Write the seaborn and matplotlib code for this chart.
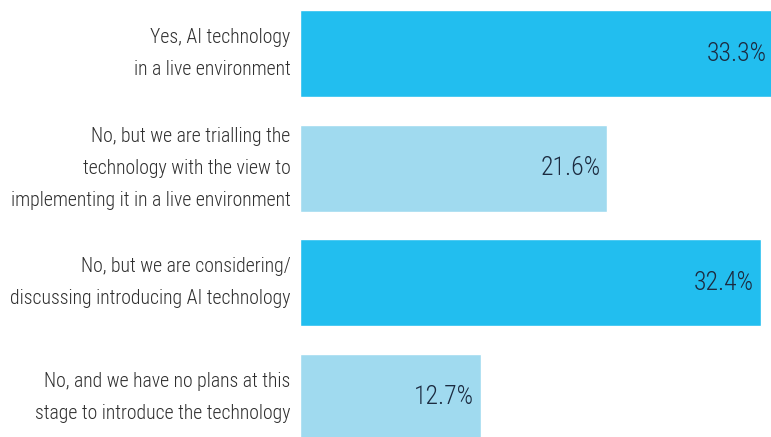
import matplotlib
matplotlib.use("Agg")
import matplotlib.pyplot as plt
from matplotlib import font_manager
import seaborn as sns
import pandas as pd

categories = [
    "Yes, AI technology\nin a live environment",
    "No, but we are trialling the\ntechnology with the view to\nimplementing it in a live environment",
    "No, but we are considering/\ndiscussing introducing AI technology",
    "No, and we have no plans at this\nstage to introduce the technology",
]
values = [33.3, 21.6, 32.4, 12.7]
value_labels = ["33.3%", "21.6%", "32.4%", "12.7%"]
bar_colors = ["#22BEEF", "#A0DAEF", "#22BEEF", "#A0DAEF"]

sns.set_theme(style="white")

# pick a condensed font if one exists
fl = font_manager.fontManager.ttflist
fam, stretch = "DejaVu Sans", "normal"
for name, st in [("Liberation Sans Narrow", None), ("Roboto Condensed", None),
                 ("Open Sans Condensed", None), ("DejaVu Sans", "condensed"),
                 ("Open Sans", "condensed"), ("Noto Sans", "condensed")]:
    hits = [f for f in fl if f.name == name and (st is None or f.stretch in (st, 300, "semi-condensed"))]
    if hits:
        fam, stretch = name, (st or "normal")
        break
plt.rcParams["font.family"] = [fam, "DejaVu Sans"]
plt.rcParams["font.stretch"] = stretch

df = pd.DataFrame({"cat": categories, "val": values})

fig = plt.figure(figsize=(7.71, 4.37), dpi=100)
ax = fig.add_axes([300 / 771, 0, 471 / 771, 1])
sns.barplot(data=df, y="cat", x="val", hue="cat", palette=bar_colors,
            legend=False, width=0.76, ax=ax, orient="h", saturation=1)

ax.set_xlim(0, 33.1)
ax.set_ylim(3.345, -0.47)
ax.set_xlabel("")
ax.set_ylabel("")
ax.set_xticks([])
for s in ax.spines.values():
    s.set_visible(False)

fs = 20
ax.tick_params(axis="y", length=0, pad=7, labelsize=fs, labelcolor="#2E2E2E")
for lab in ax.get_yticklabels():
    lab.set_horizontalalignment("right")
    lab.set_verticalalignment("center")
    lab.set_multialignment("right")
    lab.set_linespacing(1.15)
    lab.set_fontstretch(stretch)
    lab.set_fontweight("light")

# shrink to fit the left margin (about 282 px wide), keep line pitch ~32 px
fig.canvas.draw()
r = fig.canvas.get_renderer()
wmax = max(l.get_window_extent(r).width for l in ax.get_yticklabels())
if wmax > 282:
    fs = fs * 282 / wmax
ax.tick_params(axis="y", labelsize=fs)
for lab in ax.get_yticklabels():
    lab.set_fontsize(fs)
    lab.set_linespacing(1.33 * 20 / fs)

for i, (v, t) in enumerate(zip(values, value_labels)):
    ax.annotate(t, xy=(v, i), xytext=(-5, 0), textcoords="offset points",
                ha="right", va="center", fontsize=18.5, color="#1C2B40",
                fontweight="light", fontstretch=stretch,
                annotation_clip=False, clip_on=False)

fig.savefig("out.png", dpi=100, facecolor="white")
